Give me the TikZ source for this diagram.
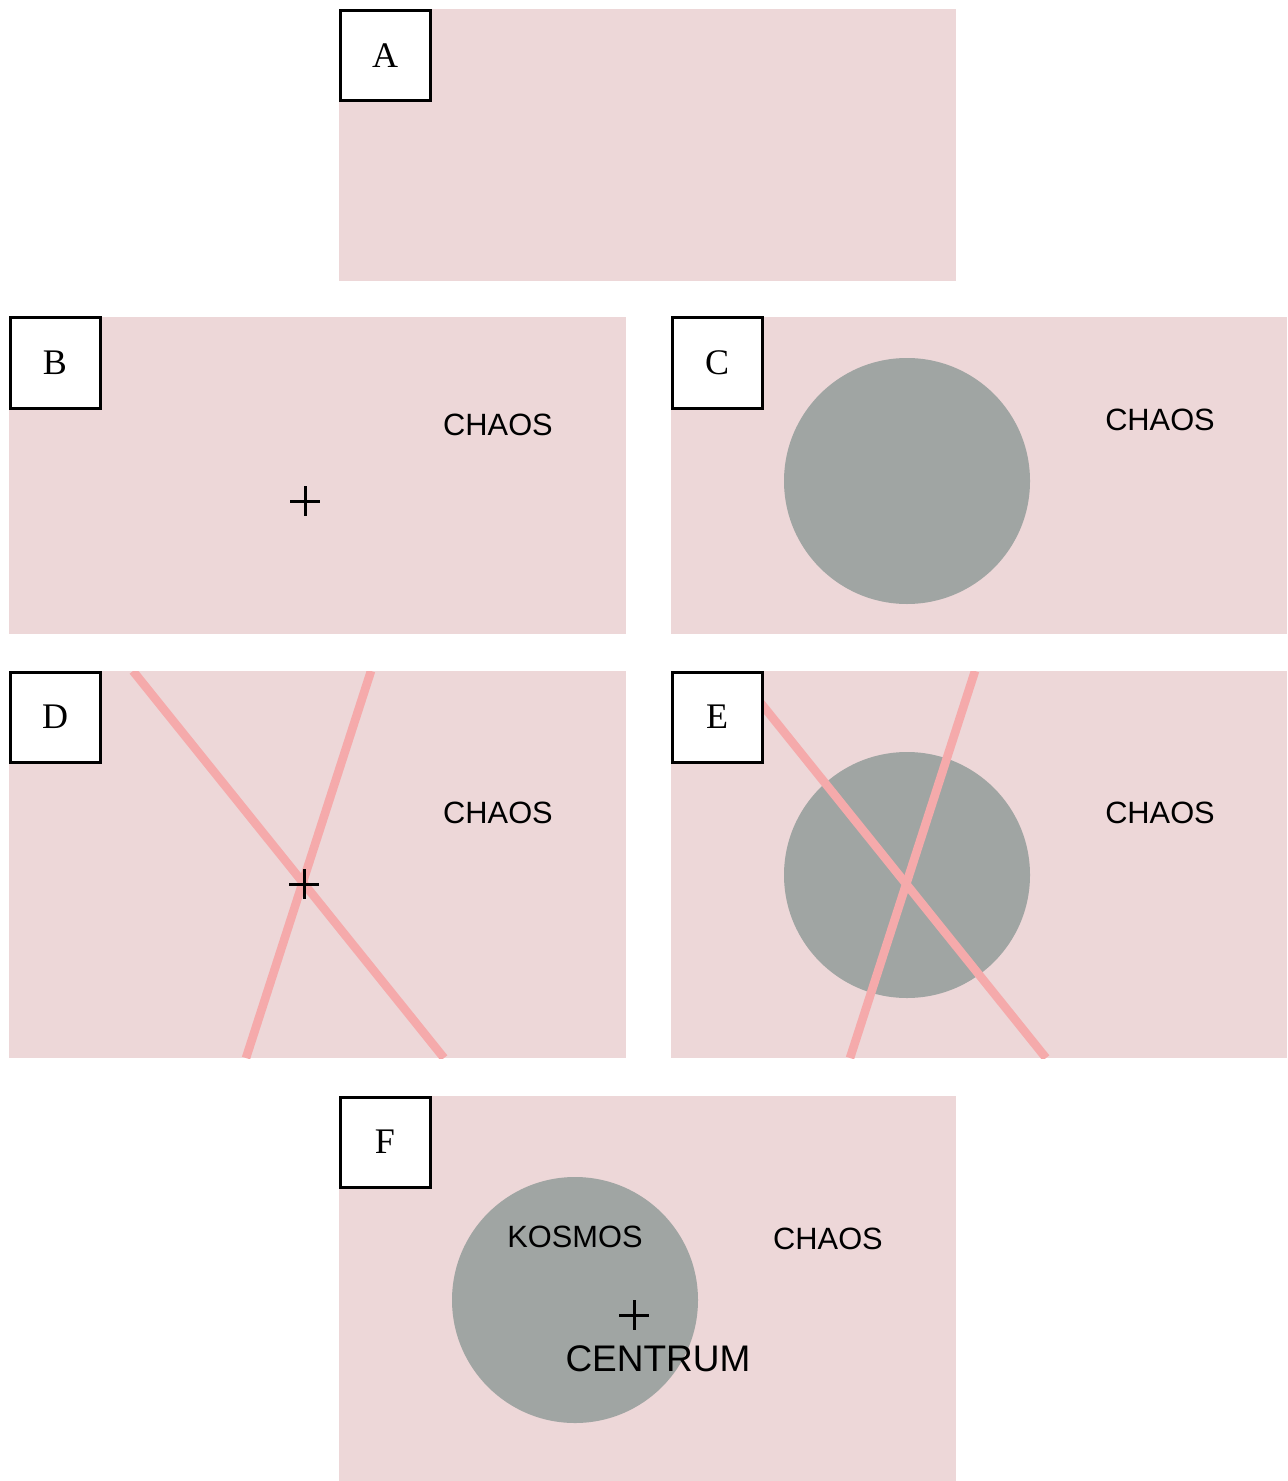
\documentclass[tikz,border=0pt]{standalone}
\usepackage{fontspec}
\usetikzlibrary{calc}
\setmainfont{Liberation Serif}
\newfontfamily\arialf{Liberation Sans}
\definecolor{panelpink}{HTML}{EDD7D8}
\definecolor{discgray}{HTML}{A0A5A3}
\definecolor{rayPink}{HTML}{F5AAAB}
\begin{document}
\begin{tikzpicture}[x=0.5pt,y=-0.5pt,
  panel/.style={fill=panelpink,draw=none},
  tag/.style={draw=black,line width=1.5pt,fill=white,minimum width=45pt,minimum height=45pt,inner sep=0pt,font=\fontsize{18}{18}\selectfont},
  word/.style={font=\arialf\fontsize{15.4}{15.4}\selectfont,inner sep=0pt},
  bigword/.style={font=\arialf\fontsize{18.5}{18.5}\selectfont,inner sep=0pt},
  disc/.style={fill=discgray,draw=none},
  ray/.style={draw=rayPink,line width=4.3pt},
  cross/.style={draw=black,line width=1.5pt}]
\useasboundingbox (0,0) rectangle (1287,1481);
% Panel A
\fill[panelpink] (339,9) rectangle (956,281);
\node[tag] (tA) at (385,56) {A};
% Panel B
\fill[panelpink] (9,317) rectangle (626,634);
\node[word] (chB) at (498,425) {CHAOS};
\coordinate (pB) at (305,501);
\draw[cross] ($(pB)+(-15,0)$) -- ($(pB)+(15,0)$) ($(pB)+(0,-15)$) -- ($(pB)+(0,15)$);
\node[tag] (tB) at (55,363) {B};
% Panel C
\fill[panelpink] (671,317) rectangle (1287,634);
\fill[disc] (907,481) circle (123);
\node[word] (chC) at (1160,420) {CHAOS};
\node[tag] (tC) at (717,363) {C};
% Panel D
\fill[panelpink] (9,671) rectangle (626,1058);
\begin{scope}
\clip (9,671) rectangle (626,1058);
\coordinate (d1a) at (133,671); \coordinate (d1b) at (444,1058);
\coordinate (d2a) at (371,671); \coordinate (d2b) at (246,1058);
\draw[ray] (d1a) -- (d1b);
\draw[ray] (d2a) -- (d2b);
\end{scope}
\node[word] (chD) at (498,813) {CHAOS};
\coordinate (pD) at (304,884);
\draw[cross] ($(pD)+(-15,0)$) -- ($(pD)+(15,0)$) ($(pD)+(0,-15)$) -- ($(pD)+(0,15)$);
\node[tag] (tD) at (55,717) {D};
% Panel E
\fill[panelpink] (671,671) rectangle (1287,1058);
\fill[disc] (907,875) circle (123);
\begin{scope}
\clip (671,671) rectangle (1287,1058);
\coordinate (e1a) at (735,671); \coordinate (e1b) at (1046,1058);
\coordinate (e2a) at (975,671); \coordinate (e2b) at (850,1058);
\draw[ray] (e1a) -- (e1b);
\draw[ray] (e2a) -- (e2b);
\end{scope}
\node[word] (chE) at (1160,813) {CHAOS};
\node[tag] (tE) at (717,717) {E};
% Panel F
\fill[panelpink] (339,1096) rectangle (956,1481);
\fill[disc] (575,1300) circle (123);
\node[word] (kos) at (575,1237) {KOSMOS};
\node[word] (chF) at (828,1239) {CHAOS};
\coordinate (pF) at (634,1315);
\draw[cross] ($(pF)+(-15,0)$) -- ($(pF)+(15,0)$) ($(pF)+(0,-15)$) -- ($(pF)+(0,15)$);
\node[bigword] (cen) at (658,1359) {CENTRUM};
\node[tag] (tF) at (385,1142) {F};
\end{tikzpicture}
\end{document}
